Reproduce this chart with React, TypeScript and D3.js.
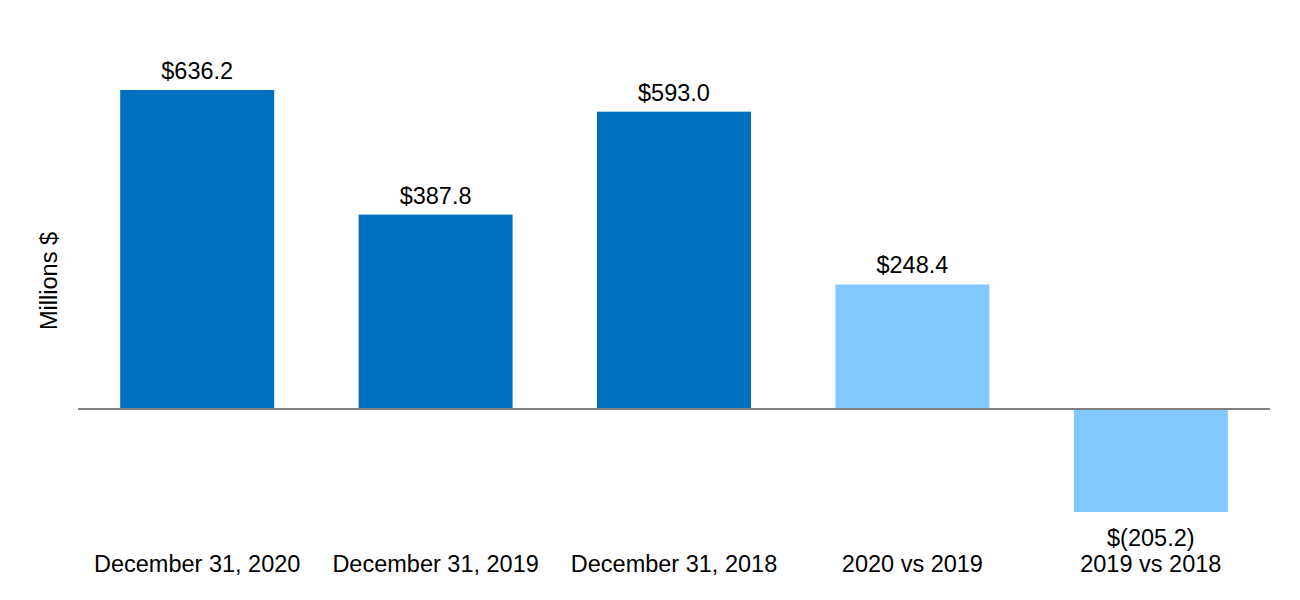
import React from "react";
import * as d3 from "d3";

const categories = [
  "December 31, 2020",
  "December 31, 2019",
  "December 31, 2018",
  "2020 vs 2019",
  "2019 vs 2018",
];
const values = [636.2, 387.8, 593.0, 248.4, -205.2];
const labels = ["$636.2", "$387.8", "$593.0", "$248.4", "$(205.2)"];
const isChange = [false, false, false, true, true];

const W = 1300;
const H = 600;
const margin = { top: 90, right: 30, bottom: 88, left: 78 };
const font = "'Liberation Sans', Arial, sans-serif";
const fs = 23.5;

const App: React.FC = () => {
  const x = d3
    .scaleBand<string>()
    .domain(categories)
    .range([margin.left, W - margin.right])
    .paddingInner(0.354)
    .paddingOuter(0.177);

  const y = d3
    .scaleLinear()
    .domain([-205.2, 636.2])
    .range([H - margin.bottom, margin.top]);

  const y0 = y(0);

  return (
    <div style={{ position: "absolute", left: 0, top: 0 }}>
      <svg width={W} height={H} style={{ fontFamily: font, display: "block" }}>
        <rect width={W} height={H} fill="#fff" />
        {categories.map((c, i) => {
          const v = values[i];
          const top = v >= 0 ? y(v) : y0;
          const h = Math.abs(y(v) - y0);
          return (
            <g key={c}>
              <rect
                x={x(c)!}
                y={top}
                width={x.bandwidth()}
                height={h}
                fill={isChange[i] ? "#80C8FF" : "#0070C0"}
              />
              <text
                x={x(c)! + x.bandwidth() / 2}
                y={v >= 0 ? y(v) - 11 : y(v) + 34}
                textAnchor="middle"
                fontSize={fs}
                fill="#000"
              >
                {labels[i]}
              </text>
              <text
                x={x(c)! + x.bandwidth() / 2}
                y={572}
                textAnchor="middle"
                fontSize={fs}
                fill="#000"
              >
                {c}
              </text>
            </g>
          );
        })}
        <line
          x1={margin.left}
          x2={W - margin.right}
          y1={y0}
          y2={y0}
          stroke="#7f7f7f"
          strokeWidth={2}
        />
        <text
          transform={`translate(57,${281}) rotate(-90)`}
          textAnchor="middle"
          fontSize={fs}
          fill="#000"
        >
          Millions $
        </text>
      </svg>
    </div>
  );
};

export default App;
